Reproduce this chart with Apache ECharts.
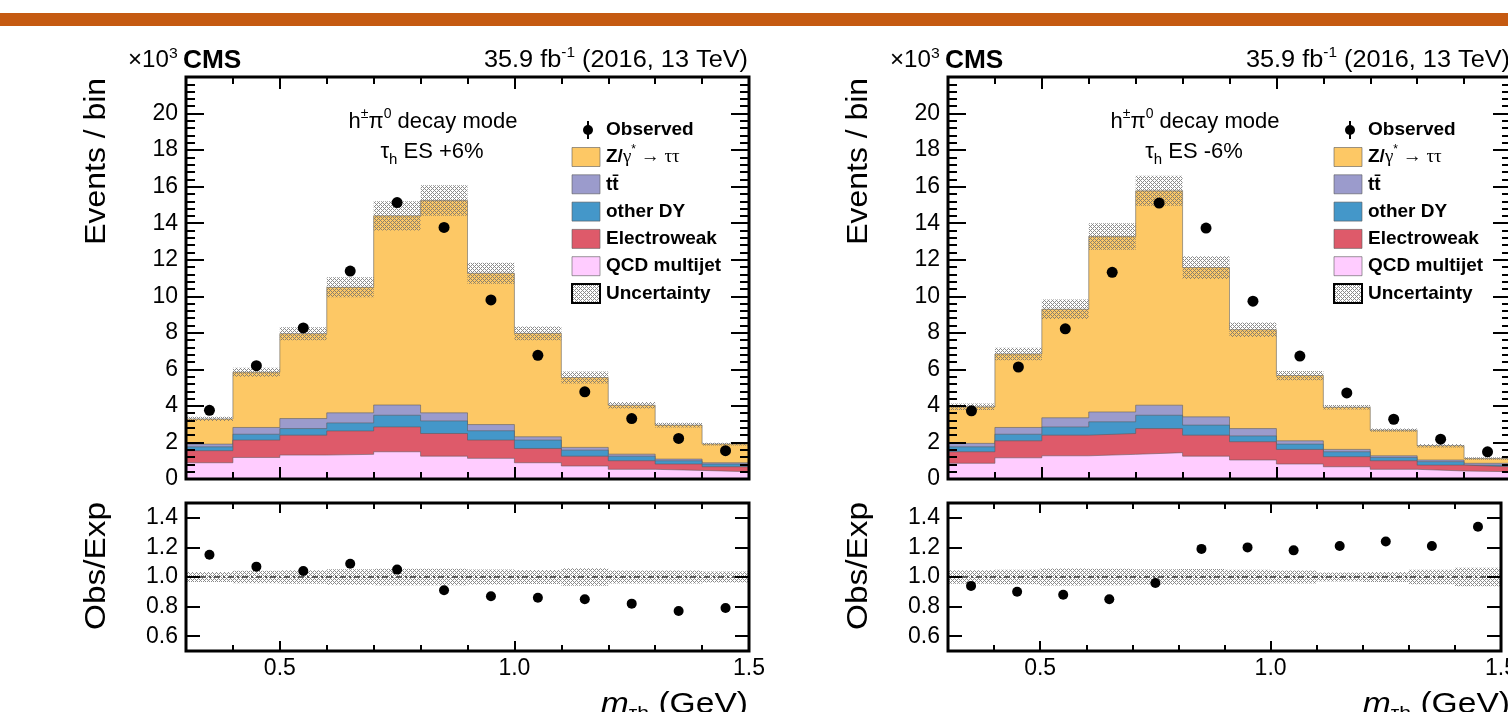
<!DOCTYPE html>
<html>
<head>
<meta charset="utf-8">
<script src="https://cdn.jsdelivr.net/npm/echarts@6/dist/echarts.min.js"></script>
<style>
html, body { margin: 0; padding: 0; background: #fff; overflow: hidden; }
#chart { width: 1520px; height: 712px; }
</style>
</head>
<body>
<div id="chart"></div>
<script>
// bins of the visible mass (GeV)
const binEdges = [0.3, 0.4, 0.5, 0.6, 0.7, 0.8, 0.9, 1.0, 1.1, 1.2, 1.3, 1.4, 1.5];
const binCenters = [0.35, 0.45, 0.55, 0.65, 0.75, 0.85, 0.95, 1.05, 1.15, 1.25, 1.35, 1.45];
const xTickLabels = [0.5, 1.0, 1.5];
const ratioTickLabels = [0.6, 0.8, 1.0, 1.2, 1.4];

// tau_h ES +6%  (events / bin, x10^3)
const qcdUp   = [0.89, 1.18, 1.31, 1.35, 1.49, 1.25, 1.13, 0.89, 0.71, 0.53, 0.47, 0.40];
const ewkUp   = [0.66, 0.95, 1.09, 1.28, 1.36, 1.24, 1.00, 0.78, 0.54, 0.47, 0.35, 0.27];
const dyUp    = [0.21, 0.32, 0.36, 0.44, 0.64, 0.69, 0.51, 0.46, 0.33, 0.25, 0.18, 0.15];
const ttUp    = [0.15, 0.37, 0.55, 0.55, 0.56, 0.44, 0.34, 0.18, 0.15, 0.11, 0.09, 0.07];
const zttUp   = [1.38, 3.02, 4.64, 6.87, 10.35, 11.62, 8.28, 5.66, 3.82, 2.68, 1.86, 1.02];
const uncUp   = [0.11, 0.25, 0.36, 0.55, 0.80, 0.84, 0.58, 0.38, 0.33, 0.18, 0.13, 0.07];
const obsUp   = [3.76, 6.20, 8.27, 11.38, 15.13, 13.77, 9.80, 6.77, 4.77, 3.31, 2.22, 1.55];
const ratioUp = [1.15, 1.07, 1.04, 1.09, 1.05, 0.91, 0.87, 0.86, 0.85, 0.82, 0.77, 0.79];

// tau_h ES -6%
const qcdDown   = [0.86, 1.16, 1.27, 1.35, 1.44, 1.25, 1.04, 0.82, 0.67, 0.53, 0.44, 0.40];
const ewkDown   = [0.63, 0.93, 1.13, 1.14, 1.32, 1.15, 1.00, 0.80, 0.55, 0.47, 0.32, 0.27];
const dyDown    = [0.27, 0.36, 0.45, 0.64, 0.73, 0.55, 0.32, 0.29, 0.27, 0.18, 0.19, 0.09];
const ttDown    = [0.19, 0.37, 0.50, 0.54, 0.55, 0.45, 0.40, 0.18, 0.13, 0.09, 0.09, 0.10];
const zttDown   = [2.00, 4.02, 5.94, 9.60, 11.73, 8.17, 5.41, 3.57, 2.31, 1.40, 0.78, 0.26];
const uncDown   = [0.18, 0.34, 0.53, 0.73, 0.82, 0.62, 0.40, 0.25, 0.12, 0.09, 0.09, 0.07];
const obsDown   = [3.73, 6.13, 8.22, 11.31, 15.10, 13.73, 9.73, 6.73, 4.71, 3.27, 2.18, 1.49];
const ratioDown = [0.94, 0.90, 0.88, 0.85, 0.96, 1.19, 1.20, 1.18, 1.21, 1.24, 1.21, 1.34];

const FONT = "'Liberation Sans', Arial, Helvetica, sans-serif";
const colors = { ztt: '#FDC865', tt: '#9B9BCC', dy: '#4497C9', ewk: '#DE5A6A', qcd: '#FFCCFF' };

function makeHatch() {
  const c = document.createElement('canvas');
  c.width = 4; c.height = 4;
  const ctx = c.getContext('2d');
  ctx.fillStyle = 'rgba(110,110,110,0.8)';
  [[0, 0], [1, 1], [2, 2], [3, 3], [1, 3], [3, 1]].forEach(p => ctx.fillRect(p[0], p[1], 1, 1));
  return c;
}
const hatch = { image: makeHatch(), repeat: 'repeat' };

const tickLine = { color: '#000', width: 2 };
const grids = [], xAxes = [], yAxes = [], series = [], graphics = [];

function addXAxes(g, isRatio) {
  const major = isRatio ? 10 : 12, minor = isRatio ? 6 : 7;
  ['bottom', 'top'].forEach(pos => {
    xAxes.push({
      gridIndex: g, type: 'value', position: pos, min: 0.3, max: 1.5, z: 10,
      axisLine: { show: false }, splitLine: { show: false },
      axisTick: { inside: true, length: major, customValues: xTickLabels, lineStyle: tickLine },
      axisLabel: (isRatio && pos === 'bottom')
        ? { customValues: xTickLabels, formatter: v => v.toFixed(1), margin: 6, color: '#000', fontSize: 23, fontFamily: FONT }
        : { show: false }
    });
    xAxes.push({
      gridIndex: g, type: 'value', position: pos, min: 0.3, max: 1.5, interval: 0.1, z: 10,
      axisLine: { show: false }, splitLine: { show: false },
      axisTick: { inside: true, length: minor, lineStyle: tickLine },
      axisLabel: { show: false }
    });
  });
}

function addYAxes(g, isRatio) {
  ['left', 'right'].forEach(pos => {
    const ax = { gridIndex: g, type: 'value', position: pos, z: 10, axisLine: { show: false }, splitLine: { show: false } };
    const lab = { color: '#000', fontSize: 23, fontFamily: FONT, margin: 8 };
    if (isRatio) {
      ax.min = 0.5; ax.max = 1.5;
      ax.axisTick = { inside: true, length: 14, customValues: ratioTickLabels, lineStyle: tickLine };
      ax.axisLabel = pos === 'left' ? Object.assign({ customValues: ratioTickLabels, formatter: v => v.toFixed(1) }, lab) : { show: false };
    } else {
      ax.min = 0; ax.max = 22; ax.interval = 2;
      ax.axisTick = { inside: true, length: 18, lineStyle: tickLine };
      ax.minorTick = { show: true, splitNumber: 5, length: 9, lineStyle: tickLine };
      ax.axisLabel = pos === 'left' ? Object.assign({ formatter: v => (v === 22 ? '' : String(v)) }, lab) : { show: false };
    }
    yAxes.push(ax);
  });
}

function stepData(vals) {
  return binEdges.map((e, i) => [e, vals[Math.min(i, vals.length - 1)]]);
}

function bandItem(params, api) {
  const a = api.coord([api.value(0), api.value(3)]);
  const b = api.coord([api.value(1), api.value(2)]);
  return { type: 'rect', shape: { x: a[0], y: a[1], width: b[0] - a[0], height: b[1] - a[1] }, style: { fill: hatch } };
}

function addPanel(k, dx, d, esText) {
  const gMain = 2 * k, gRatio = 2 * k + 1;
  grids.push({ left: 186 + dx, top: 77, width: 563, height: 402, show: true, z: 10, borderColor: '#000', borderWidth: 3, backgroundColor: 'transparent' });
  grids.push({ left: 186 + dx, top: 503, width: 563, height: 148, show: true, z: 10, borderColor: '#000', borderWidth: 3, backgroundColor: 'transparent' });
  addXAxes(gMain, false); addYAxes(gMain, false);
  addXAxes(gRatio, true); addYAxes(gRatio, true);

  // cumulative stack levels
  const lvQcd = d.qcd;
  const lvEwk = lvQcd.map((v, i) => v + d.ewk[i]);
  const lvDy = lvEwk.map((v, i) => v + d.dy[i]);
  const lvTt = lvDy.map((v, i) => v + d.tt[i]);
  const lvTot = lvTt.map((v, i) => v + d.ztt[i]);

  const levels = [[lvTot, colors.ztt], [lvTt, colors.tt], [lvDy, colors.dy], [lvEwk, colors.ewk], [lvQcd, colors.qcd]];
  levels.forEach((lv, j) => {
    series.push({
      type: 'line', xAxisIndex: 4 * gMain, yAxisIndex: 2 * gMain, step: 'end', symbol: 'none', silent: true, z: 1 + j,
      lineStyle: { color: 'rgba(90,90,90,0.55)', width: 1 },
      areaStyle: { color: lv[1], opacity: 1 },
      data: stepData(lv[0])
    });
  });

  series.push({
    type: 'custom', xAxisIndex: 4 * gMain, yAxisIndex: 2 * gMain, z: 7, silent: true,
    renderItem: bandItem, encode: { x: [0, 1], y: [2, 3] },
    data: lvTot.map((t, i) => [binEdges[i], binEdges[i + 1], t - d.unc[i], t + d.unc[i]])
  });
  series.push({
    type: 'scatter', xAxisIndex: 4 * gMain, yAxisIndex: 2 * gMain, z: 8, symbolSize: 11, silent: true,
    itemStyle: { color: '#000', opacity: 1 },
    data: binCenters.map((x, i) => [x, d.obs[i]])
  });

  series.push({
    type: 'custom', xAxisIndex: 4 * gRatio, yAxisIndex: 2 * gRatio, z: 6, silent: true,
    renderItem: bandItem, encode: { x: [0, 1], y: [2, 3] },
    data: lvTot.map((t, i) => [binEdges[i], binEdges[i + 1], 1 - d.unc[i] / t, 1 + d.unc[i] / t])
  });
  series.push({
    type: 'scatter', xAxisIndex: 4 * gRatio, yAxisIndex: 2 * gRatio, z: 8, symbolSize: 10, silent: true,
    itemStyle: { color: '#000', opacity: 1 },
    data: binCenters.map((x, i) => [x, d.ratio[i]]),
    markLine: {
      silent: true, symbol: ['none', 'none'], label: { show: false },
      lineStyle: { color: '#555', type: [6, 3, 2, 3], width: 2, opacity: 1 },
      data: [{ yAxis: 1 }]
    }
  });

  // texts and legend
  const txt = (x, y, text, extra, el) => graphics.push(Object.assign({
    type: 'text', x: x + dx, y: y, z: 20, silent: true,
    style: Object.assign({ text: text, fill: '#000', font: '22px ' + FONT, verticalAlign: 'middle' }, extra || {})
  }, el || {}));
  txt(128, 61, '{n|×10}{s|3}{b|CMS}', {
    rich: {
      n: { fontSize: 23, fontFamily: FONT, lineHeight: 30 },
      s: { fontSize: 15, fontFamily: FONT, verticalAlign: 'top', lineHeight: 14 },
      b: { fontSize: 25, fontFamily: FONT, fontWeight: 'bold', lineHeight: 30, padding: [0, 0, 0, 5] }
    }
  }, { scaleX: 1.05 });
  txt(748, 61, '{n|35.9 fb}{s|-1}{n| (2016, 13 TeV)}', {
    align: 'right',
    rich: {
      n: { fontSize: 23, fontFamily: FONT, lineHeight: 30 },
      s: { fontSize: 14, fontFamily: FONT, verticalAlign: 'top', lineHeight: 14 }
    }
  }, { scaleX: 1.1 });
  txt(433, 122, '{n|h}{s|±}{n|π}{s|0}{n| decay mode}', {
    align: 'center',
    rich: {
      n: { fontSize: 22, fontFamily: FONT, lineHeight: 30 },
      s: { fontSize: 14, fontFamily: FONT, verticalAlign: 'top', lineHeight: 14 }
    }
  });
  txt(432, 152, '{n|τ}{u|h}{n| ES ' + esText + '}', {
    align: 'center',
    rich: {
      n: { fontSize: 22, fontFamily: FONT, lineHeight: 30 },
      u: { fontSize: 15, fontFamily: FONT, verticalAlign: 'bottom', lineHeight: 14 }
    }
  });
  txt(97, 78, 'Events / bin', { align: 'right', font: '29px ' + FONT }, { rotation: Math.PI / 2, scaleX: 1.1 });
  txt(97, 566, 'Obs/Exp', { align: 'center', font: '29px ' + FONT }, { rotation: Math.PI / 2, scaleX: 1.15 });
  txt(748, 705, '{i|m}{u|τh}{n| (GeV)}', {
    align: 'right',
    rich: {
      i: { fontSize: 30, fontFamily: FONT, fontStyle: 'italic', lineHeight: 36 },
      u: { fontSize: 19, fontFamily: FONT, verticalAlign: 'bottom', lineHeight: 16 },
      n: { fontSize: 30, fontFamily: FONT, lineHeight: 36 }
    }
  }, { scaleX: 1.12 });

  // legend
  graphics.push({ type: 'line', z: 20, silent: true, shape: { x1: 588 + dx, y1: 121, x2: 588 + dx, y2: 139 }, style: { stroke: '#000', lineWidth: 2 } });
  graphics.push({ type: 'circle', z: 20, silent: true, shape: { cx: 588 + dx, cy: 130, r: 5 }, style: { fill: '#000' } });
  txt(606, 130, 'Observed', { font: 'bold 19px ' + FONT });
  const rows = [
    [colors.ztt, '{b|Z/}{g|γ}{s|*}{g| → ττ}'],
    [colors.tt, 'tt\u0304'],
    [colors.dy, 'other DY'],
    [colors.ewk, 'Electroweak'],
    [colors.qcd, 'QCD multijet'],
    [hatch, 'Uncertainty']
  ];
  rows.forEach((r, j) => {
    const cy = 157 + j * 27.3;
    const isUnc = j === rows.length - 1;
    graphics.push({
      type: 'rect', z: 20, silent: true,
      shape: { x: 572 + dx, y: cy - 9.5, width: 28, height: 19 },
      style: { fill: r[0], stroke: isUnc ? '#000' : 'rgba(90,90,90,0.6)', lineWidth: isUnc ? 2 : 1 }
    });
    txt(606, cy, r[1], {
      font: 'bold 19px ' + FONT,
      rich: {
        b: { fontSize: 19, fontFamily: FONT, fontWeight: 'bold', lineHeight: 26 },
        g: { fontSize: 19, fontFamily: "'Liberation Serif', serif", lineHeight: 26 },
        s: { fontSize: 12, fontFamily: FONT, verticalAlign: 'top', lineHeight: 12 }
      }
    });
  });
}

addPanel(0, 0, { qcd: qcdUp, ewk: ewkUp, dy: dyUp, tt: ttUp, ztt: zttUp, unc: uncUp, obs: obsUp, ratio: ratioUp }, '+6%');
addPanel(1, 762, { qcd: qcdDown, ewk: ewkDown, dy: dyDown, tt: ttDown, ztt: zttDown, unc: uncDown, obs: obsDown, ratio: ratioDown }, '-6%');

graphics.unshift({ type: 'rect', z: 20, silent: true, shape: { x: 0, y: 13, width: 1520, height: 13 }, style: { fill: '#C55A11' } });

const myChart = echarts.init(document.getElementById('chart'));
myChart.setOption({
  animation: false,
  backgroundColor: '#fff',
  grid: grids,
  xAxis: xAxes,
  yAxis: yAxes,
  series: series,
  graphic: graphics
});
</script>
</body>
</html>
